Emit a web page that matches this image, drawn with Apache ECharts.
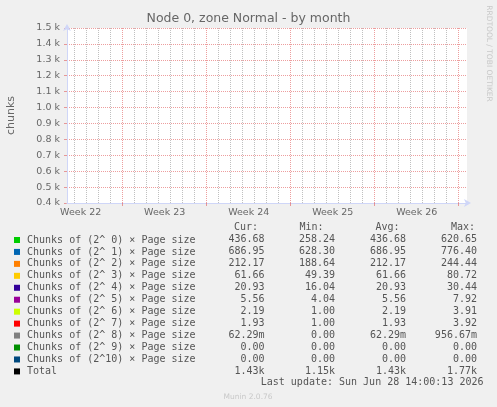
<!DOCTYPE html>
<html><head><meta charset="utf-8">
<script src="https://cdn.jsdelivr.net/npm/echarts@6/dist/echarts.min.js"></script>
<style>html,body{margin:0;padding:0;background:#f0f0f0}#c{width:497px;height:407px}</style>
</head><body><div id="c"></div>
<script>
// ---- data ----
const titleText = 'Node 0, zone Normal - by month';
const yAxisName = 'chunks';
const seriesNames = [
  'Chunks of (2^ 0) \u00d7 Page size', 'Chunks of (2^ 1) \u00d7 Page size',
  'Chunks of (2^ 2) \u00d7 Page size', 'Chunks of (2^ 3) \u00d7 Page size',
  'Chunks of (2^ 4) \u00d7 Page size', 'Chunks of (2^ 5) \u00d7 Page size',
  'Chunks of (2^ 6) \u00d7 Page size', 'Chunks of (2^ 7) \u00d7 Page size',
  'Chunks of (2^ 8) \u00d7 Page size', 'Chunks of (2^ 9) \u00d7 Page size',
  'Chunks of (2^10) \u00d7 Page size', 'Total'
];
const seriesColors = ['#00CC00','#0066B3','#FF8000','#FFCC00','#330099','#990099',
  '#CCFF00','#FF0000','#808080','#008F00','#00487D','#000000'];
const curValues = ['436.68','686.95','212.17','61.66','20.93','5.56','2.19','1.93','62.29m','0.00','0.00','1.43k'];
const minValues = ['258.24','628.30','188.64','49.39','16.04','4.04','1.00','1.00','0.00','0.00','0.00','1.15k'];
const avgValues = ['436.68','686.95','212.17','61.66','20.93','5.56','2.19','1.93','62.29m','0.00','0.00','1.43k'];
const maxValues = ['620.65','776.40','244.44','80.72','30.44','7.92','3.91','3.92','956.67m','0.00','0.00','1.77k'];
const columnHeaders = ['Cur:', 'Min:', 'Avg:', 'Max:'];
// plotted data: the reference shows no drawn samples in the visible range
const plottedData = seriesNames.map(() => []);
// x axis in days, 0 = start of Week 23
const weekNumbers = [22, 23, 24, 25, 26];
const weekStartDays = [0, 7, 14, 21, 28];
const xMin = -4.64, xMax = 28.69;
const yMin = 400, yMax = 1500, yStep = 100;
const lastUpdate = 'Last update: Sun Jun 28 14:00:13 2026';
const footer = 'Munin 2.0.76';
const watermark = 'RRDTOOL / TOBI OETIKER';

// ---- derived ----
const weekLabelDays = weekNumbers.map((w, i) => -3.5 + 7 * i);
const dayLines = [];
for (let d = Math.ceil(xMin); d <= Math.floor(xMax); d++) if (d % 7 !== 0) dayLines.push(d);

const FONT = 'DejaVu Sans';
const MONO = 'DejaVu Sans Mono';
const TXT = '#666666';
const LEGTXT = '#555555';
const GRIDC = 'rgba(150,150,150,0.6)';
const MGRIDC = 'rgba(222,79,79,0.55)';
const AXISC = '#CFD6F8';

const chart = echarts.init(document.getElementById('c'), null, {renderer: 'canvas'});

const colX = [264.5, 335, 406, 477];
const headerX = [246, 311.5, 387.5, 463];
const rowY0 = 239.8, rowH = 11.95;
const graphics = [];
columnHeaders.forEach((h, j) => graphics.push({type: 'text', x: headerX[j], y: 227,
  style: {text: h, font: '10px "' + MONO + '"', fill: LEGTXT, align: 'center', verticalAlign: 'middle'}}));
[curValues, minValues, avgValues, maxValues].forEach((arr, j) => {
  arr.forEach((v, i) => graphics.push({type: 'text', x: colX[j], y: rowY0 + rowH * i,
    style: {text: v, font: '10px "' + MONO + '"', fill: LEGTXT, align: 'right', verticalAlign: 'middle'}}));
});
graphics.push({type: 'text', x: 483.5, y: 382, style: {text: lastUpdate, font: '10px "' + MONO + '"', fill: LEGTXT, align: 'right', verticalAlign: 'middle'}});
graphics.push({type: 'text', x: 223.5, y: 397, style: {text: footer, font: '7.5px "' + FONT + '"', fill: '#c8c8c8', align: 'left', verticalAlign: 'middle'}});
graphics.push({type: 'text', x: 488.5, y: 53.5, rotation: -Math.PI / 2, style: {text: watermark, font: '7.5px "' + FONT + '"', fill: '#c8c8c8', align: 'center', verticalAlign: 'middle'}});

const dotted = (c) => ({color: c, width: 1, type: [1, 1]});

chart.setOption({
  backgroundColor: '#f0f0f0',
  animation: false,
  title: {text: titleText, left: 'center', top: 12, padding: 0,
    textStyle: {fontFamily: FONT, fontSize: 12.5, fontWeight: 'normal', color: TXT}},
  grid: {left: 67, right: 30, top: 28, bottom: 204, show: true, backgroundColor: '#ffffff', borderWidth: 0, outerBoundsMode: 'none'},
  legend: {orient: 'vertical', left: 14, top: 234, padding: 0, itemGap: 0, itemWidth: 6, itemHeight: 6,
    icon: 'rect', selectedMode: false, data: seriesNames,
    textStyle: {fontFamily: MONO, fontSize: 10, color: LEGTXT, lineHeight: 11.95, padding: [0, 0, 0, 2]}},
  xAxis: [
    {type: 'value', min: xMin, max: xMax, position: 'bottom', z: 3,
     axisLine: {show: true, onZero: false, lineStyle: {color: AXISC, width: 1}, symbol: ['none', 'arrow'], symbolSize: [6, 7], symbolOffset: [0, 4]},
     axisTick: {show: true, length: 3, customValues: weekStartDays, lineStyle: {color: MGRIDC}},
     axisLabel: {show: true, customValues: weekLabelDays, margin: 5, fontFamily: FONT, fontSize: 9.5, color: TXT,
       formatter: (v) => 'Week ' + weekNumbers[Math.round((v + 3.5) / 7)]},
     splitLine: {show: true, lineStyle: dotted(MGRIDC)}},
    {type: 'value', min: xMin, max: xMax, position: 'bottom', z: 1,
     axisLine: {show: false}, axisTick: {show: false, customValues: dayLines},
     axisLabel: {show: false}, splitLine: {show: true, lineStyle: dotted(GRIDC)}}
  ],
  yAxis: {type: 'value', min: yMin, max: yMax, interval: yStep,
    name: yAxisName, nameLocation: 'middle', nameGap: 50, nameTextStyle: {fontFamily: FONT, fontSize: 11, color: TXT},
    axisLine: {show: true, onZero: false, lineStyle: {color: AXISC, width: 1}, symbol: ['none', 'arrow'], symbolSize: [6, 7], symbolOffset: [0, 4]},
    axisTick: {show: true, length: 3, lineStyle: {color: MGRIDC}},
    axisLabel: {margin: 7, fontFamily: FONT, fontSize: 9.5, color: TXT,
      formatter: (v) => (v / 1000).toFixed(1) + ' k'},
    splitLine: {show: true, lineStyle: dotted(MGRIDC)}},
  series: seriesNames.map((n, i) => ({name: n, type: 'line', xAxisIndex: 0, data: plottedData[i],
    itemStyle: {color: seriesColors[i]}, lineStyle: {color: seriesColors[i]}, showSymbol: false})),
  graphic: graphics
});
</script></body></html>
